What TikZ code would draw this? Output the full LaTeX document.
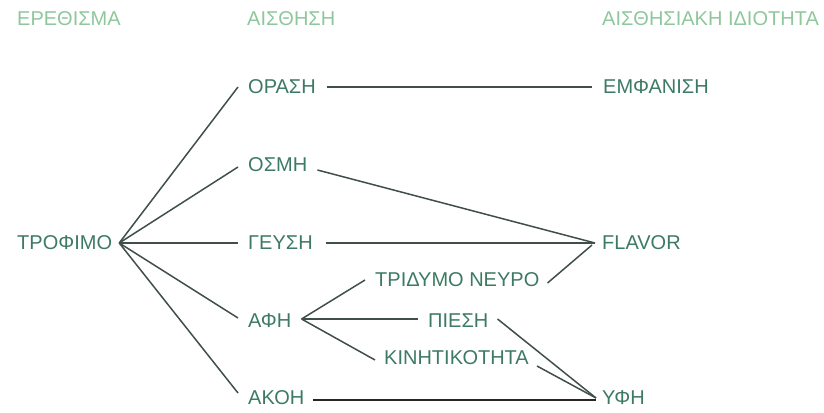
\documentclass[tikz,border=0pt]{standalone}
\usepackage{fontspec}
\setmainfont{Liberation Sans}
\usetikzlibrary{calc}
\definecolor{txtgreen}{HTML}{3D7A63}
\definecolor{hdrgreen}{HTML}{8EC79C}
\definecolor{linecol}{HTML}{404F48}
\begin{document}
\begin{tikzpicture}[x=1pt,y=-1pt,
  lbl/.style={text=txtgreen,font=\fontsize{20}{22}\selectfont,inner sep=0pt,anchor=west},
  hdr/.style={text=hdrgreen,font=\fontsize{20}{22}\selectfont,inner sep=0pt,anchor=west},
  conn/.style={draw=linecol,line width=1.5pt},
  thick conn/.style={draw=black!85,line width=2pt}]
\useasboundingbox (0,0) rectangle (824,412);
% headers
\node[hdr] (h1) at (17,19) {ΕΡΕΘΙΣΜΑ};
\node[hdr] (h2) at (247,19) {ΑΙΣΘΗΣΗ};
\node[hdr] (h3) at (602,19) {ΑΙΣΘΗΣΙΑΚΗ ΙΔΙΟΤΗΤΑ};
% nodes
\node[lbl] (trofimo) at (17,243) {ΤΡΟΦΙΜΟ};
\node[lbl] (orasi) at (248,87) {ΟΡΑΣΗ};
\node[lbl] (osmi) at (248,165) {ΟΣΜΗ};
\node[lbl] (geusi) at (248,243) {ΓΕΥΣΗ};
\node[lbl] (afi) at (248,321) {ΑΦΗ};
\node[lbl] (akoi) at (248,398) {ΑΚΟΗ};
\node[lbl] (emfanisi) at (603,87) {ΕΜΦΑΝΙΣΗ};
\node[lbl] (flavor) at (602,243) {FLAVOR};
\node[lbl] (trid) at (375,280) {ΤΡΙΔΥΜΟ ΝΕΥΡΟ};
\node[lbl] (piesi) at (428,321) {ΠΙΕΣΗ};
\node[lbl] (kin) at (384,358) {ΚΙΝΗΤΙΚΟΤΗΤΑ};
\node[lbl] (yfi) at (602,398) {ΥΦΗ};
% connector points
\coordinate (tP) at ($(trofimo.east)+(7,0)$);
\coordinate (fP) at ($(flavor.west)+(-7,0)$);
\coordinate (aP) at ($(afi.east)+(10,-2)$);
\coordinate (yP) at ($(yfi.west)+(-6,0)$);
\draw[conn] (tP) -- ($(orasi.west)+(-10,0)$);
\draw[conn] (tP) -- ($(osmi.west)+(-10,2)$);
\draw[conn] (tP) -- ($(geusi.west)+(-10,0)$);
\draw[conn] (tP) -- ($(afi.west)+(-10,-3)$);
\draw[conn] (tP) -- ($(akoi.west)+(-10,-5)$);
\draw[conn] ($(orasi.east)+(11,0)$) -- ($(emfanisi.west)+(-11,0)$);
\draw[conn] ($(osmi.east)+(10,5)$) -- (fP);
\draw[conn] ($(geusi.east)+(13,0)$) -- (fP);
\draw[conn] ($(trid.east)+(8,3)$) -- ($(fP)+(-3,2)$);
\draw[conn] (aP) -- ($(trid.west)+(-10,0)$);
\draw[conn] (aP) -- ($(piesi.west)+(-10,-2)$);
\draw[conn] (aP) -- ($(kin.west)+(-9,2)$);
\draw[conn] ($(piesi.east)+(9,-2)$) -- (yP);
\draw[conn] ($(kin.east)+(8,8)$) -- (yP);
\draw[thick conn] ($(akoi.east)+(9,2)$) -- ($(yP)+(0,2)$);
\end{tikzpicture}
\end{document}
